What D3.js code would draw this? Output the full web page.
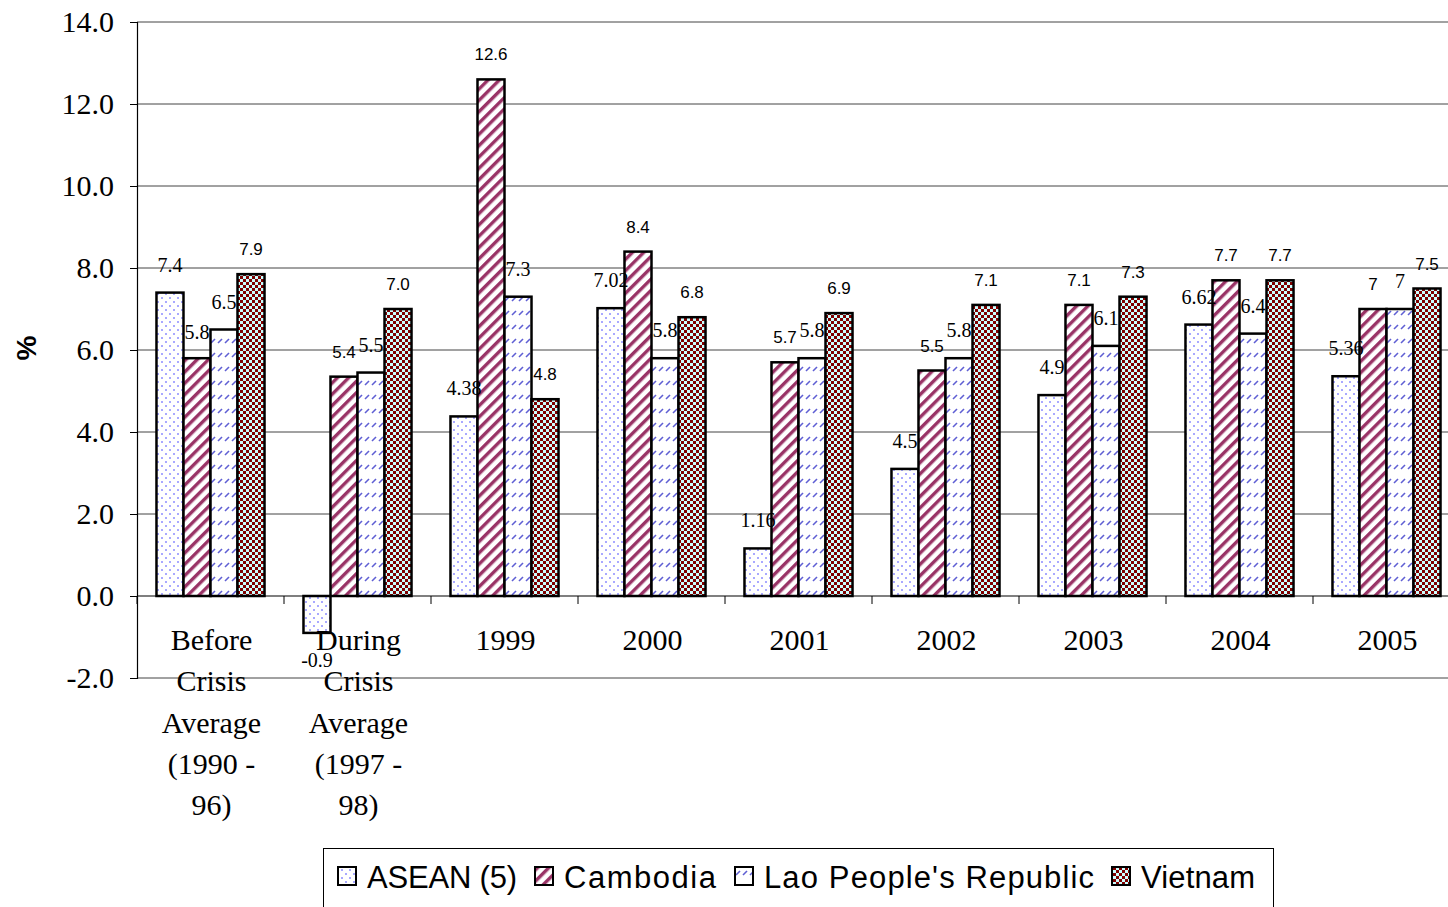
<!DOCTYPE html>
<html><head><meta charset="utf-8">
<script src="https://cdn.jsdelivr.net/npm/d3@7"></script>
<style>body{margin:0;background:#fff;overflow:hidden}</style>
</head><body><svg id="c" width="1448" height="907"></svg>
<script>
const categories = ["Before\nCrisis\nAverage\n(1990 -\n96)", "During\nCrisis\nAverage\n(1997 -\n98)", "1999", "2000", "2001", "2002", "2003", "2004", "2005"];
const seriesNames = ["ASEAN (5)", "Cambodia", "Lao People's Republic", "Vietnam"];
const asean = [7.4, -0.9, 4.38, 7.02, 1.16, 3.1, 4.9, 6.62, 5.36];
const aseanLabels = ["7.4", "-0.9", "4.38", "7.02", "1.16", "4.5", "4.9", "6.62", "5.36"];
const cambodia = [5.8, 5.35, 12.6, 8.4, 5.7, 5.5, 7.1, 7.7, 7.0];
const cambodiaLabels = ["5.8", "5.4", "12.6", "8.4", "5.7", "5.5", "7.1", "7.7", "7"];
const lao = [6.5, 5.45, 7.3, 5.8, 5.8, 5.8, 6.1, 6.4, 7.0];
const laoLabels = ["6.5", "5.5", "7.3", "5.8", "5.8", "5.8", "6.1", "6.4", "7"];
const vietnam = [7.85, 7.0, 4.8, 6.8, 6.9, 7.1, 7.3, 7.7, 7.5];
const vietnamLabels = ["7.9", "7.0", "4.8", "6.8", "6.9", "7.1", "7.3", "7.7", "7.5"];
const yTicks = [-2, 0, 2, 4, 6, 8, 10, 12, 14];

const seriesValues = [asean, cambodia, lao, vietnam];
const seriesLabels = [aseanLabels, cambodiaLabels, laoLabels, vietnamLabels];
const patIds = ["pA", "pC", "pL", "pV"];
const serifSeries = [true, false, true, false];

const svg = d3.select("#c");
const defs = svg.append("defs");
// ASEAN dots
let p = defs.append("pattern").attr("id", "pA").attr("patternUnits", "userSpaceOnUse").attr("width", 8).attr("height", 8);
p.append("rect").attr("width", 8).attr("height", 8).attr("fill", "#fff");
p.append("circle").attr("cx", 2).attr("cy", 2).attr("r", 1).attr("fill", "#8c8cff");
p.append("circle").attr("cx", 6).attr("cy", 6).attr("r", 1).attr("fill", "#8c8cff");
// Cambodia stripes
p = defs.append("pattern").attr("id", "pC").attr("patternUnits", "userSpaceOnUse").attr("width", 8).attr("height", 8).attr("patternTransform", "rotate(45)");
p.append("rect").attr("width", 8).attr("height", 8).attr("fill", "#fff");
p.append("rect").attr("x", 0).attr("width", 3.4).attr("height", 8).attr("fill", "#993366");
// Lao dashes
p = defs.append("pattern").attr("id", "pL").attr("patternUnits", "userSpaceOnUse").attr("width", 7).attr("height", 14);
p.append("rect").attr("width", 7).attr("height", 14).attr("fill", "#fff");
p.append("line").attr("x1", 1).attr("y1", 7).attr("x2", 5).attr("y2", 3).attr("stroke", "#5f5fd4").attr("stroke-width", 1.6);
// Vietnam checker
p = defs.append("pattern").attr("id", "pV").attr("patternUnits", "userSpaceOnUse").attr("width", 6).attr("height", 6);
p.append("rect").attr("width", 6).attr("height", 6).attr("fill", "#ccffff");
p.append("rect").attr("width", 3).attr("height", 3).attr("fill", "#800000");
p.append("rect").attr("x", 3).attr("y", 3).attr("width", 3).attr("height", 3).attr("fill", "#800000");

const y = d3.scaleLinear().domain([-2, 14]).range([678, 22]);
const x = d3.scaleBand().domain(d3.range(categories.length)).range([137, 1460]).paddingInner(0.265).paddingOuter(0.1325);
const xs = d3.scaleBand().domain(d3.range(4)).range([0, x.bandwidth()]);
const step = x.step();
const x0 = 137;

// gridlines
svg.append("g").selectAll("line").data(yTicks.filter(d => d !== 0)).join("line")
  .attr("x1", x0).attr("x2", 1448).attr("y1", d => y(d)).attr("y2", d => y(d))
  .attr("stroke", "#444").attr("stroke-width", 1);

// y axis
const fmt = d3.format(".1f");
const ya = svg.append("g").attr("transform", `translate(${x0},0)`)
  .call(d3.axisLeft(y).tickValues(yTicks).tickFormat(d => fmt(d).replace("\u2212", "-")).tickSize(7).tickPadding(16));
ya.select(".domain").attr("stroke", "#000").attr("stroke-width", 1.2);
ya.selectAll(".tick line").attr("stroke", "#000");
ya.selectAll("text").attr("font-family", "Liberation Serif").attr("font-size", 30).attr("fill", "#000");

// bars
seriesValues.forEach((vals, s) => {
  svg.append("g").selectAll("rect").data(vals).join("rect")
    .attr("x", (d, i) => x(i) + xs(s))
    .attr("width", xs.bandwidth())
    .attr("y", d => y(Math.max(0, d)))
    .attr("height", d => Math.abs(y(d) - y(0)))
    .attr("fill", `url(#${patIds[s]})`)
    .attr("stroke", "#000").attr("stroke-width", 2.5);
});

// x axis line and ticks
svg.append("line").attr("x1", x0).attr("x2", 1448).attr("y1", y(0)).attr("y2", y(0)).attr("stroke", "#000").attr("stroke-width", 1.2);
svg.append("g").selectAll("line").data(d3.range(categories.length + 1)).join("line")
  .attr("x1", i => x0 + i * step).attr("x2", i => x0 + i * step)
  .attr("y1", y(0)).attr("y2", y(0) + 8).attr("stroke", "#000");

// category labels
const cl = svg.append("g").selectAll("text").data(categories).join("text")
  .attr("text-anchor", "middle").attr("font-family", "Liberation Serif").attr("font-size", 30).attr("fill", "#000");
cl.each(function (d, i) {
  const t = d3.select(this);
  d.split("\n").forEach((line, k) => {
    t.append("tspan").attr("x", x(i) + x.bandwidth() / 2 + 1).attr("y", 650 + k * 41.3).text(line);
  });
});

// data labels
seriesValues.forEach((vals, s) => {
  svg.append("g").selectAll("text").data(vals).join("text")
    .attr("x", (d, i) => x(i) + xs(s) + xs.bandwidth() / 2)
    .attr("y", d => d >= 0 ? y(d) - (serifSeries[s] ? 21 : 19) : y(d) + 34)
    .attr("text-anchor", "middle")
    .attr("font-family", (d, i) => (serifSeries[s] || (s === 1 && i === 0)) ? "Liberation Serif" : "Liberation Sans")
    .attr("font-size", (d, i) => (serifSeries[s] || (s === 1 && i === 0)) ? 20 : 17)
    .attr("fill", "#000")
    .text((d, i) => seriesLabels[s][i]);
});

// y title
svg.append("text").attr("transform", "translate(36,348) rotate(-90)").attr("text-anchor", "middle")
  .attr("font-family", "Liberation Sans").attr("font-weight", "bold").attr("font-size", 28).text("%");

// legend
const lg = svg.append("g");
lg.append("rect").attr("x", 323.5).attr("y", 848.5).attr("width", 950).attr("height", 80).attr("fill", "#fff").attr("stroke", "#000").attr("stroke-width", 1);
const legX = [338, 535, 735, 1112];
const legW = [150, 152, 330, 114];
seriesNames.forEach((n, s) => {
  lg.append("rect").attr("x", legX[s]).attr("y", 867).attr("width", 18).attr("height", 18)
    .attr("fill", `url(#${patIds[s]})`).attr("stroke", "#000").attr("stroke-width", 2);
  lg.append("text").attr("x", legX[s] + 29).attr("y", 888).attr("font-family", "Liberation Sans").attr("font-size", 31)
    .attr("textLength", legW[s]).attr("lengthAdjust", "spacing").attr("fill", "#000").text(n);
});
</script></body></html>
